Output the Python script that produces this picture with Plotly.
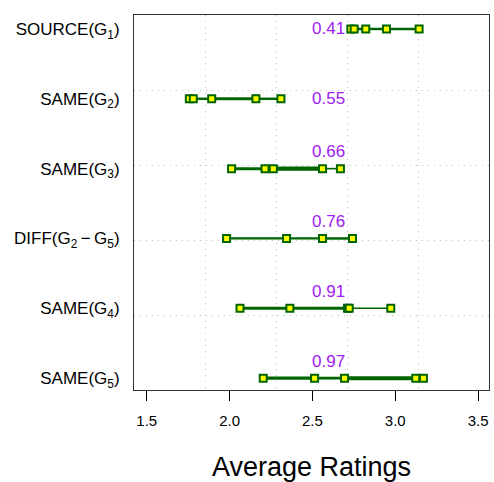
import plotly.graph_objects as go

# Data (top row first)
categories = ["SOURCE(G<sub>1</sub>)", "SAME(G<sub>2</sub>)", "SAME(G<sub>3</sub>)",
              "DIFF(G<sub>2</sub>\u2009\u2212\u2009G<sub>5</sub>)", "SAME(G<sub>4</sub>)", "SAME(G<sub>5</sub>)"]
ratings = [
    [2.732, 2.752, 2.822, 2.947, 3.144],
    [1.757, 1.781, 1.892, 2.159, 2.310],
    [2.012, 2.214, 2.264, 2.561, 2.669],
    [1.982, 2.344, 2.561, 2.742],
    [2.063, 2.364, 2.712, 2.722, 2.973],
    [2.203, 2.513, 2.694, 3.124, 3.170],
]
scores = ["0.41", "0.55", "0.66", "0.76", "0.91", "0.97"]
x_ticks = [1.5, 2.0, 2.5, 3.0, 3.5]

# Styles
seg_widths = [
    [2.5, 2.5, 2.5, 2.5],
    [2.5, 2.5, 3, 2.5],
    [3, 3, 4.2, 1.6],
    [2.2, 2.2, 2.5],
    [3, 3, 3, 1.6],
    [3.3, 2.8, 4, 3.5],
]
label_x = 2.6
label_dy = [0, 0, 0.24, 0.24, 0.24, 0.24]
GREEN = "#006400"
PURPLE = "#A020F0"

n = len(categories)
ypos = [n - i for i in range(n)]

fig = go.Figure()

# invisible trace to anchor the grid overlay axes
fig.add_trace(go.Scatter(x=[0, 5], y=[0, 5], xaxis="x2", yaxis="y2", mode="markers",
                         marker=dict(opacity=0), hoverinfo="skip", showlegend=False))

for i, vals in enumerate(ratings):
    y = ypos[i]
    for j in range(len(vals) - 1):
        fig.add_trace(go.Scatter(x=[vals[j], vals[j + 1]], y=[y, y], mode="lines",
                                 line=dict(color=GREEN, width=seg_widths[i][j]),
                                 showlegend=False, hoverinfo="skip"))
    fig.add_trace(go.Scatter(x=vals, y=[y] * len(vals), mode="markers",
                             marker=dict(symbol="square", size=7, color="#FFFF00",
                                         line=dict(color=GREEN, width=2)),
                             showlegend=False))

for i, s in enumerate(scores):
    fig.add_annotation(x=label_x, y=ypos[i] + label_dy[i], text=s, showarrow=False,
                       font=dict(color=PURPLE, size=17, family="Liberation Sans, Arial"),
                       xanchor="center", yanchor="middle")

grid_style = dict(range=[0, 5], tickvals=[1, 2, 3, 4], showticklabels=False,
                  ticks="", showgrid=True, gridcolor="#c0c0c0", griddash="1px,5px",
                  gridwidth=1.2, zeroline=False, showline=False)

fig.update_layout(
    width=494, height=482,
    margin=dict(l=134, r=4, t=15, b=90),
    plot_bgcolor="white", paper_bgcolor="white",
    font=dict(family="Liberation Sans, Arial", color="black"),
    xaxis=dict(range=[1.423, 3.566], tickvals=x_ticks, ticktext=[f"{v:.1f}" for v in x_ticks],
               ticks="outside", ticklen=10, tickcolor="black", tickwidth=1,
               showgrid=False, zeroline=False, showline=True, linecolor="#333", mirror=True,
               tickfont=dict(size=15), ticklabelstandoff=7,
               title=dict(text="Average Ratings", font=dict(size=27), standoff=30)),
    yaxis=dict(range=[0.83, 6.2], tickvals=ypos, ticktext=categories,
               ticks="", showgrid=False, zeroline=False, showline=True, linecolor="#333",
               mirror=True, tickfont=dict(size=17), ticklabelstandoff=10),
    xaxis2=dict(overlaying="x", **grid_style),
    yaxis2=dict(overlaying="y", **grid_style),
)

fig.write_html("out.html")
